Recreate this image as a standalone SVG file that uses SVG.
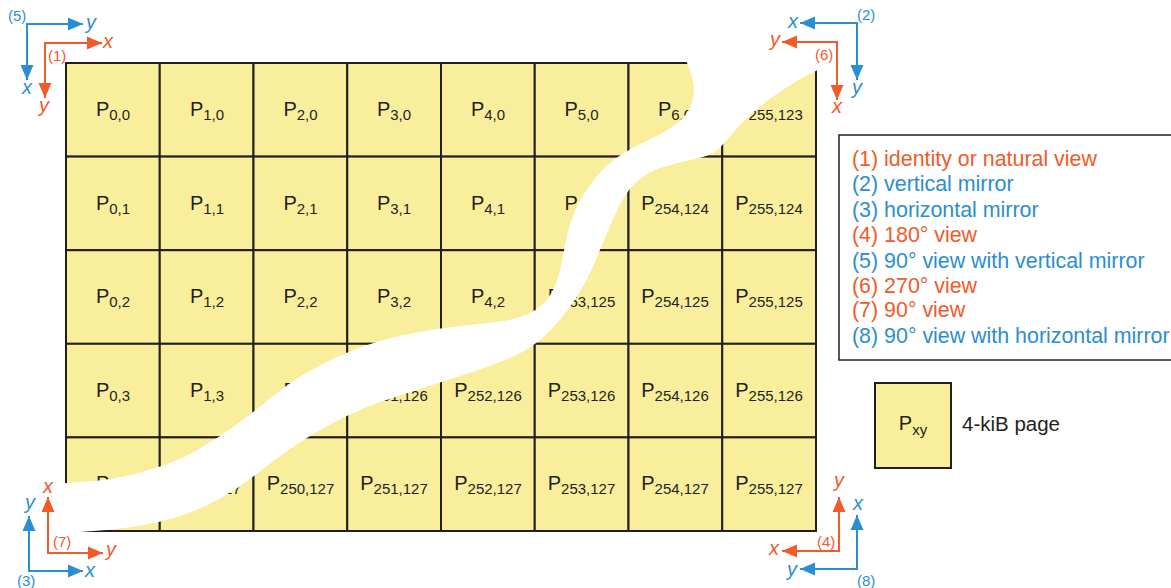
<svg xmlns="http://www.w3.org/2000/svg" width="1171" height="588" viewBox="0 0 1171 588">
<style>
.cell{fill:#F9EE9C;stroke:#231F20;stroke-width:2}
.pl{font-family:"Liberation Sans",Arial,sans-serif;font-size:20px;fill:#231F20;text-anchor:middle}
.sub{font-size:15px}
.ax{font-family:"Liberation Sans",Arial,sans-serif;font-size:20px;font-style:italic}
.num{font-family:"Liberation Sans",Arial,sans-serif;font-size:15px}
.or{fill:#F15A29}
.bl{fill:#2B8ED0}
.lo{fill:none;stroke:#F15A29;stroke-width:2}
.lb{fill:none;stroke:#2B8ED0;stroke-width:2}
.leg{font-family:"Liberation Sans",Arial,sans-serif;font-size:21.4px}
</style>
<defs>
<marker id="ao" markerUnits="userSpaceOnUse" markerWidth="16" markerHeight="14" refX="15" refY="7" orient="auto-start-reverse"><path d="M0,0.5 L15,7 L0,13.5 Z" fill="#F15A29"/></marker>
<marker id="ab" markerUnits="userSpaceOnUse" markerWidth="16" markerHeight="14" refX="15" refY="7" orient="auto-start-reverse"><path d="M0,0.5 L15,7 L0,13.5 Z" fill="#2B8ED0"/></marker>
</defs>

<g id="grid">
<g id="row0">
<rect class="cell" x="66" y="63" width="93.75" height="93.6"/><rect class="cell" x="159.75" y="63" width="93.75" height="93.6"/><rect class="cell" x="253.5" y="63" width="93.75" height="93.6"/><rect class="cell" x="347.25" y="63" width="93.75" height="93.6"/><rect class="cell" x="441" y="63" width="93.75" height="93.6"/><rect class="cell" x="534.75" y="63" width="93.75" height="93.6"/><rect class="cell" x="628.5" y="63" width="93.75" height="93.6"/><rect class="cell" x="722.25" y="63" width="93.75" height="93.6"/>
</g>
<g id="row1">
<rect class="cell" x="66" y="156.6" width="93.75" height="93.6"/><rect class="cell" x="159.75" y="156.6" width="93.75" height="93.6"/><rect class="cell" x="253.5" y="156.6" width="93.75" height="93.6"/><rect class="cell" x="347.25" y="156.6" width="93.75" height="93.6"/><rect class="cell" x="441" y="156.6" width="93.75" height="93.6"/><rect class="cell" x="534.75" y="156.6" width="93.75" height="93.6"/><rect class="cell" x="628.5" y="156.6" width="93.75" height="93.6"/><rect class="cell" x="722.25" y="156.6" width="93.75" height="93.6"/>
</g>
<g id="row2">
<rect class="cell" x="66" y="250.2" width="93.75" height="93.6"/><rect class="cell" x="159.75" y="250.2" width="93.75" height="93.6"/><rect class="cell" x="253.5" y="250.2" width="93.75" height="93.6"/><rect class="cell" x="347.25" y="250.2" width="93.75" height="93.6"/><rect class="cell" x="441" y="250.2" width="93.75" height="93.6"/><rect class="cell" x="534.75" y="250.2" width="93.75" height="93.6"/><rect class="cell" x="628.5" y="250.2" width="93.75" height="93.6"/><rect class="cell" x="722.25" y="250.2" width="93.75" height="93.6"/>
</g>
<g id="row3">
<rect class="cell" x="66" y="343.8" width="93.75" height="93.6"/><rect class="cell" x="159.75" y="343.8" width="93.75" height="93.6"/><rect class="cell" x="253.5" y="343.8" width="93.75" height="93.6"/><rect class="cell" x="347.25" y="343.8" width="93.75" height="93.6"/><rect class="cell" x="441" y="343.8" width="93.75" height="93.6"/><rect class="cell" x="534.75" y="343.8" width="93.75" height="93.6"/><rect class="cell" x="628.5" y="343.8" width="93.75" height="93.6"/><rect class="cell" x="722.25" y="343.8" width="93.75" height="93.6"/>
</g>
<g id="row4">
<rect class="cell" x="66" y="437.4" width="93.75" height="93.6"/><rect class="cell" x="159.75" y="437.4" width="93.75" height="93.6"/><rect class="cell" x="253.5" y="437.4" width="93.75" height="93.6"/><rect class="cell" x="347.25" y="437.4" width="93.75" height="93.6"/><rect class="cell" x="441" y="437.4" width="93.75" height="93.6"/><rect class="cell" x="534.75" y="437.4" width="93.75" height="93.6"/><rect class="cell" x="628.5" y="437.4" width="93.75" height="93.6"/><rect class="cell" x="722.25" y="437.4" width="93.75" height="93.6"/>
</g>
<g id="labels">
<text class="pl" x="113" y="116">P<tspan class="sub" dy="4">0,0</tspan></text>
<text class="pl" x="207" y="116">P<tspan class="sub" dy="4">1,0</tspan></text>
<text class="pl" x="300.5" y="116">P<tspan class="sub" dy="4">2,0</tspan></text>
<text class="pl" x="394" y="116">P<tspan class="sub" dy="4">3,0</tspan></text>
<text class="pl" x="488" y="116">P<tspan class="sub" dy="4">4,0</tspan></text>
<text class="pl" x="581.5" y="116">P<tspan class="sub" dy="4">5,0</tspan></text>
<text class="pl" x="675" y="116">P<tspan class="sub" dy="4">6,0</tspan></text>
<text class="pl" x="769" y="116">P<tspan class="sub" dy="4">255,123</tspan></text>

<text class="pl" x="113" y="209.5">P<tspan class="sub" dy="4">0,1</tspan></text>
<text class="pl" x="207" y="209.5">P<tspan class="sub" dy="4">1,1</tspan></text>
<text class="pl" x="300.5" y="209.5">P<tspan class="sub" dy="4">2,1</tspan></text>
<text class="pl" x="394" y="209.5">P<tspan class="sub" dy="4">3,1</tspan></text>
<text class="pl" x="488" y="209.5">P<tspan class="sub" dy="4">4,1</tspan></text>
<text class="pl" x="581.5" y="209.5">P<tspan class="sub" dy="4">5,1</tspan></text>
<text class="pl" x="675" y="209.5">P<tspan class="sub" dy="4">254,124</tspan></text>
<text class="pl" x="769" y="209.5">P<tspan class="sub" dy="4">255,124</tspan></text>

<text class="pl" x="113" y="303">P<tspan class="sub" dy="4">0,2</tspan></text>
<text class="pl" x="207" y="303">P<tspan class="sub" dy="4">1,2</tspan></text>
<text class="pl" x="300.5" y="303">P<tspan class="sub" dy="4">2,2</tspan></text>
<text class="pl" x="394" y="303">P<tspan class="sub" dy="4">3,2</tspan></text>
<text class="pl" x="488" y="303">P<tspan class="sub" dy="4">4,2</tspan></text>
<text class="pl" x="581.5" y="303">P<tspan class="sub" dy="4">253,125</tspan></text>
<text class="pl" x="675" y="303">P<tspan class="sub" dy="4">254,125</tspan></text>
<text class="pl" x="769" y="303">P<tspan class="sub" dy="4">255,125</tspan></text>

<text class="pl" x="113" y="396.5">P<tspan class="sub" dy="4">0,3</tspan></text>
<text class="pl" x="207" y="396.5">P<tspan class="sub" dy="4">1,3</tspan></text>
<text class="pl" x="300.5" y="396.5">P<tspan class="sub" dy="4">2,3</tspan></text>
<text class="pl" x="394" y="396.5">P<tspan class="sub" dy="4">251,126</tspan></text>
<text class="pl" x="488" y="396.5">P<tspan class="sub" dy="4">252,126</tspan></text>
<text class="pl" x="581.5" y="396.5">P<tspan class="sub" dy="4">253,126</tspan></text>
<text class="pl" x="675" y="396.5">P<tspan class="sub" dy="4">254,126</tspan></text>
<text class="pl" x="769" y="396.5">P<tspan class="sub" dy="4">255,126</tspan></text>

<text class="pl" x="113" y="490">P<tspan class="sub" dy="4">0,4</tspan></text>
<text class="pl" x="207" y="490">P<tspan class="sub" dy="4">249,127</tspan></text>
<text class="pl" x="300.5" y="490">P<tspan class="sub" dy="4">250,127</tspan></text>
<text class="pl" x="394" y="490">P<tspan class="sub" dy="4">251,127</tspan></text>
<text class="pl" x="488" y="490">P<tspan class="sub" dy="4">252,127</tspan></text>
<text class="pl" x="581.5" y="490">P<tspan class="sub" dy="4">253,127</tspan></text>
<text class="pl" x="675" y="490">P<tspan class="sub" dy="4">254,127</tspan></text>
<text class="pl" x="769" y="490">P<tspan class="sub" dy="4">255,127</tspan></text>
</g>
</g>

<g id="break">
<path fill="#FFFFFF" d="M686,60 Q694,80 694,90 Q694,100 689,109.5 Q684,119 672,127 Q660,135 646.5,141 Q633,147 621.5,154.5 Q610,162 602,170.5 Q594,179 587,189 Q580,199 574.5,212 Q569,225 566.5,237.5 Q564,250 562,261.5 Q560,273 555.5,284.5 Q551,296 543.5,303.5 Q536,311 524.5,315.5 Q513,320 496.5,322 Q480,324 460,326 Q440,328 416.5,332.5 Q393,337 376.5,342 Q360,347 345,353.5 Q330,360 311.5,370 Q293,380 276.5,393.5 Q260,407 240,422 Q220,437 200,448.5 Q180,460 160,466.5 Q140,473 123.5,476.5 Q107,480 87,481.5 Q67,483 45,484.5 L20,486 L20,536 L43,534.5 Q66,533 86.5,531.5 Q107,530 123.5,528 Q140,526 156.5,522.5 Q173,519 190,512.5 Q207,506 223.5,496.5 Q240,487 256.5,474 Q273,461 290,449 Q307,437 332,423.5 Q357,410 382,401.5 Q407,393 432,385 Q457,377 478.5,370 Q500,363 516.5,355 Q533,347 545,335.5 Q557,324 565,313.5 Q573,303 580,291.5 Q587,280 592,268.5 Q597,257 601,247.5 Q605,238 609,228.5 Q613,219 618,208.5 Q623,198 629,190 Q635,182 644,176 Q653,170 665,166.5 Q677,163 688.5,160.5 Q700,158 707.5,155.5 Q715,153 720,147.5 Q725,142 733.5,132 Q742,122 753.5,112 Q765,102 779,92.5 Q793,83 804,77 Q815,71 835,62 L835,45 L684,45 Z"/>
</g>

<g id="connectors">
<path class="lb" d="M27,80 L27,24 L83,24" marker-start="url(#ab)" marker-end="url(#ab)"/>
<path class="lo" d="M45,98 L45,43 L102,43" marker-start="url(#ao)" marker-end="url(#ao)"/>
<path class="lb" d="M800,23 L857,23 L857,80" marker-start="url(#ab)" marker-end="url(#ab)"/>
<path class="lo" d="M782,42 L837,42 L837,100" marker-start="url(#ao)" marker-end="url(#ao)"/>
<path class="lo" d="M48,497 L48,553 L103,553" marker-start="url(#ao)" marker-end="url(#ao)"/>
<path class="lb" d="M29,516 L29,571 L83,571" marker-start="url(#ab)" marker-end="url(#ab)"/>
<path class="lo" d="M839,497 L839,551 L782,551" marker-start="url(#ao)" marker-end="url(#ao)"/>
<path class="lb" d="M857,515 L857,569 L800,569" marker-start="url(#ab)" marker-end="url(#ab)"/>
</g>

<g id="view5">
<text class="num bl" x="8" y="21">(5)</text>
<text class="ax bl" x="86" y="29">y</text>
<text class="ax bl" x="27" y="94" text-anchor="middle">x</text>
</g>
<g id="view1">
<text class="num or" x="48" y="61">(1)</text>
<text class="ax or" x="103" y="48">x</text>
<text class="ax or" x="44" y="112" text-anchor="middle">y</text>
</g>
<g id="view2">
<text class="num bl" x="857" y="20">(2)</text>
<text class="ax bl" x="798" y="28" text-anchor="end">x</text>
<text class="ax bl" x="857" y="94" text-anchor="middle">y</text>
</g>
<g id="view6">
<text class="num or" x="815" y="60">(6)</text>
<text class="ax or" x="780" y="46" text-anchor="end">y</text>
<text class="ax or" x="837" y="113" text-anchor="middle">x</text>
</g>
<g id="view7">
<text class="num or" x="53" y="547">(7)</text>
<text class="ax or" x="48" y="493" text-anchor="middle">x</text>
<text class="ax or" x="106" y="556">y</text>
</g>
<g id="view3">
<text class="num bl" x="17" y="586">(3)</text>
<text class="ax bl" x="30" y="509" text-anchor="middle">y</text>
<text class="ax bl" x="85" y="577">x</text>
</g>
<g id="view4">
<text class="num or" x="817" y="547">(4)</text>
<text class="ax or" x="839" y="487" text-anchor="middle">y</text>
<text class="ax or" x="779" y="555" text-anchor="end">x</text>
</g>
<g id="view8">
<text class="num bl" x="857" y="586">(8)</text>
<text class="ax bl" x="858" y="510" text-anchor="middle">x</text>
<text class="ax bl" x="797" y="576" text-anchor="end">y</text>
</g>

<g id="legend">
<rect x="839" y="135" width="400" height="225" fill="#FFFFFF" stroke="#231F20" stroke-width="1.5"/>
<text class="leg or" x="852" y="166">(1) identity or natural view</text>
<text class="leg bl" x="852" y="191">(2) vertical mirror</text>
<text class="leg bl" x="852" y="217">(3) horizontal mirror</text>
<text class="leg or" x="852" y="242">(4) 180° view</text>
<text class="leg bl" x="852" y="268">(5) 90° view with vertical mirror</text>
<text class="leg or" x="852" y="293">(6) 270° view</text>
<text class="leg or" x="852" y="317">(7) 90° view</text>
<text class="leg bl" x="852" y="343">(8) 90° view with horizontal mirror</text>
</g>

<g id="key">
<rect class="cell" x="875" y="383" width="76" height="85"/>
<text class="pl" x="913" y="430">P<tspan class="sub" dy="5">xy</tspan></text>
<text x="962" y="431" font-family="'Liberation Sans',Arial,sans-serif" font-size="20.5" fill="#231F20">4-kiB page</text>
</g>
</svg>
